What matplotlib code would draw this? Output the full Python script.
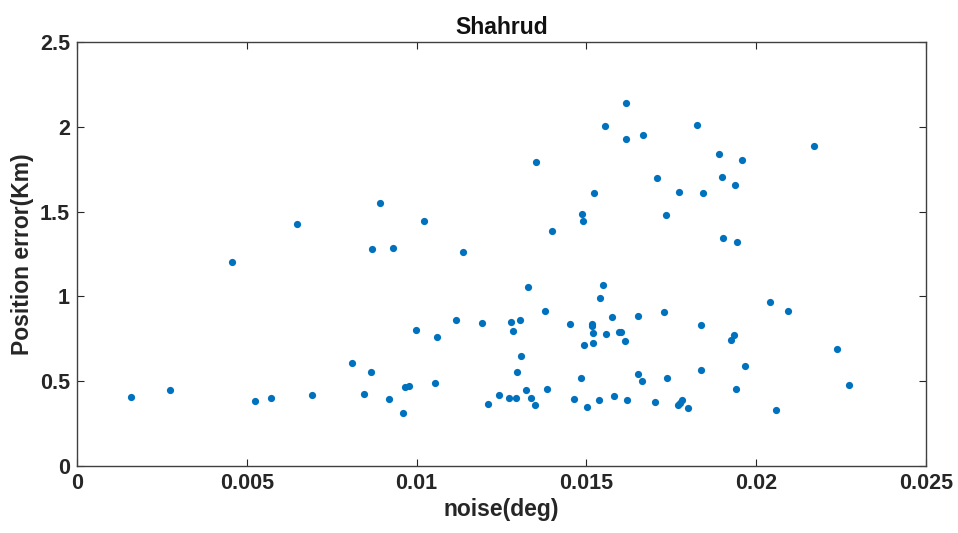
import matplotlib
matplotlib.use('Agg')
import matplotlib.pyplot as plt

# noise (deg) vs position error (Km)
noise = [
    0.00160, 0.00274, 0.00455, 0.00523, 0.00571, 0.00647, 0.00692, 0.00810, 0.00845, 0.00866,
    0.00870, 0.00891, 0.00918, 0.00932, 0.00961, 0.00967, 0.00979, 0.00999, 0.01021, 0.01054,
    0.01061, 0.01117, 0.01138, 0.01192, 0.01210, 0.01244, 0.01272, 0.01278, 0.01285, 0.01292,
    0.01297, 0.01305, 0.01309, 0.01321, 0.01329, 0.01337, 0.01349, 0.01353, 0.01377, 0.01385,
    0.01398, 0.01452, 0.01465, 0.01483, 0.01487, 0.01489, 0.01494, 0.01502, 0.01517, 0.01517,
    0.01521, 0.01521, 0.01524, 0.01536, 0.01541, 0.01549, 0.01555, 0.01559, 0.01576, 0.01583,
    0.01596, 0.01602, 0.01613, 0.01616, 0.01618, 0.01619, 0.01651, 0.01653, 0.01665, 0.01667,
    0.01702, 0.01707, 0.01728, 0.01735, 0.01739, 0.01769, 0.01773, 0.01775, 0.01781, 0.01800,
    0.01826, 0.01837, 0.01838, 0.01844, 0.01890, 0.01899, 0.01903, 0.01925, 0.01936, 0.01939,
    0.01941, 0.01944, 0.01960, 0.01967, 0.02042, 0.02060, 0.02095, 0.02171, 0.02238, 0.02274,
]
error = [
    0.407, 0.450, 1.205, 0.385, 0.403, 1.429, 0.417, 0.606, 0.425, 0.554,
    1.278, 1.549, 0.393, 1.287, 0.313, 0.468, 0.470, 0.802, 1.446, 0.491,
    0.759, 0.859, 1.260, 0.841, 0.364, 0.420, 0.403, 0.847, 0.796, 0.403,
    0.552, 0.861, 0.647, 0.446, 1.057, 0.401, 0.358, 1.791, 0.914, 0.454,
    1.384, 0.837, 0.397, 0.517, 1.484, 1.446, 0.712, 0.350, 0.839, 0.825,
    0.782, 0.723, 1.611, 0.387, 0.989, 1.069, 2.003, 0.777, 0.877, 0.413,
    0.792, 0.790, 0.739, 2.142, 1.926, 0.387, 0.884, 0.544, 0.503, 1.950,
    0.377, 1.700, 0.910, 1.478, 0.521, 0.360, 1.617, 0.371, 0.387, 0.344,
    2.011, 0.833, 0.564, 1.610, 1.841, 1.706, 1.343, 0.741, 0.772, 1.659,
    0.454, 1.319, 1.802, 0.591, 0.969, 0.330, 0.916, 1.885, 0.688, 0.479,
]

xticks = [0, 0.005, 0.01, 0.015, 0.02, 0.025]
xtick_labels = ['0', '0.005', '0.01', '0.015', '0.02', '0.025']
yticks = [0, 0.5, 1, 1.5, 2, 2.5]
ytick_labels = ['0', '0.5', '1', '1.5', '2', '2.5']

plt.rcParams['font.family'] = ['Liberation Sans', 'DejaVu Sans']
plt.rcParams['font.weight'] = 'bold'

fig = plt.figure(figsize=(9.58, 5.33), dpi=100)
ax = fig.add_axes([0.0804, 0.1257, 0.886, 0.7955])

ax.scatter(noise, error, s=27, color='#0072BD', linewidths=0)

ax.set_xlim(0, 0.025)
ax.set_ylim(0, 2.5)
ax.set_xticks(xticks)
ax.set_xticklabels(xtick_labels)
ax.set_yticks(yticks)
ax.set_yticklabels(ytick_labels)

ax.tick_params(direction='in', length=5, width=0.8, colors='#262626',
               labelsize=15.5, top=True, right=True, pad=5)
for lbl in ax.get_xticklabels() + ax.get_yticklabels():
    lbl.set_fontweight('bold')
for sp in ax.spines.values():
    sp.set_color('#404040')
    sp.set_linewidth(1.0)

ax.set_xlabel('noise(deg)', fontsize=16.5, fontweight='bold', color='#262626', labelpad=3)
ax.set_ylabel('Position error(Km)', fontsize=16.5, fontweight='bold', color='#262626', labelpad=4)
ax.set_title('Shahrud', fontsize=16.5, fontweight='bold', color='#111111', pad=6)

plt.savefig('out.png', dpi=100)
